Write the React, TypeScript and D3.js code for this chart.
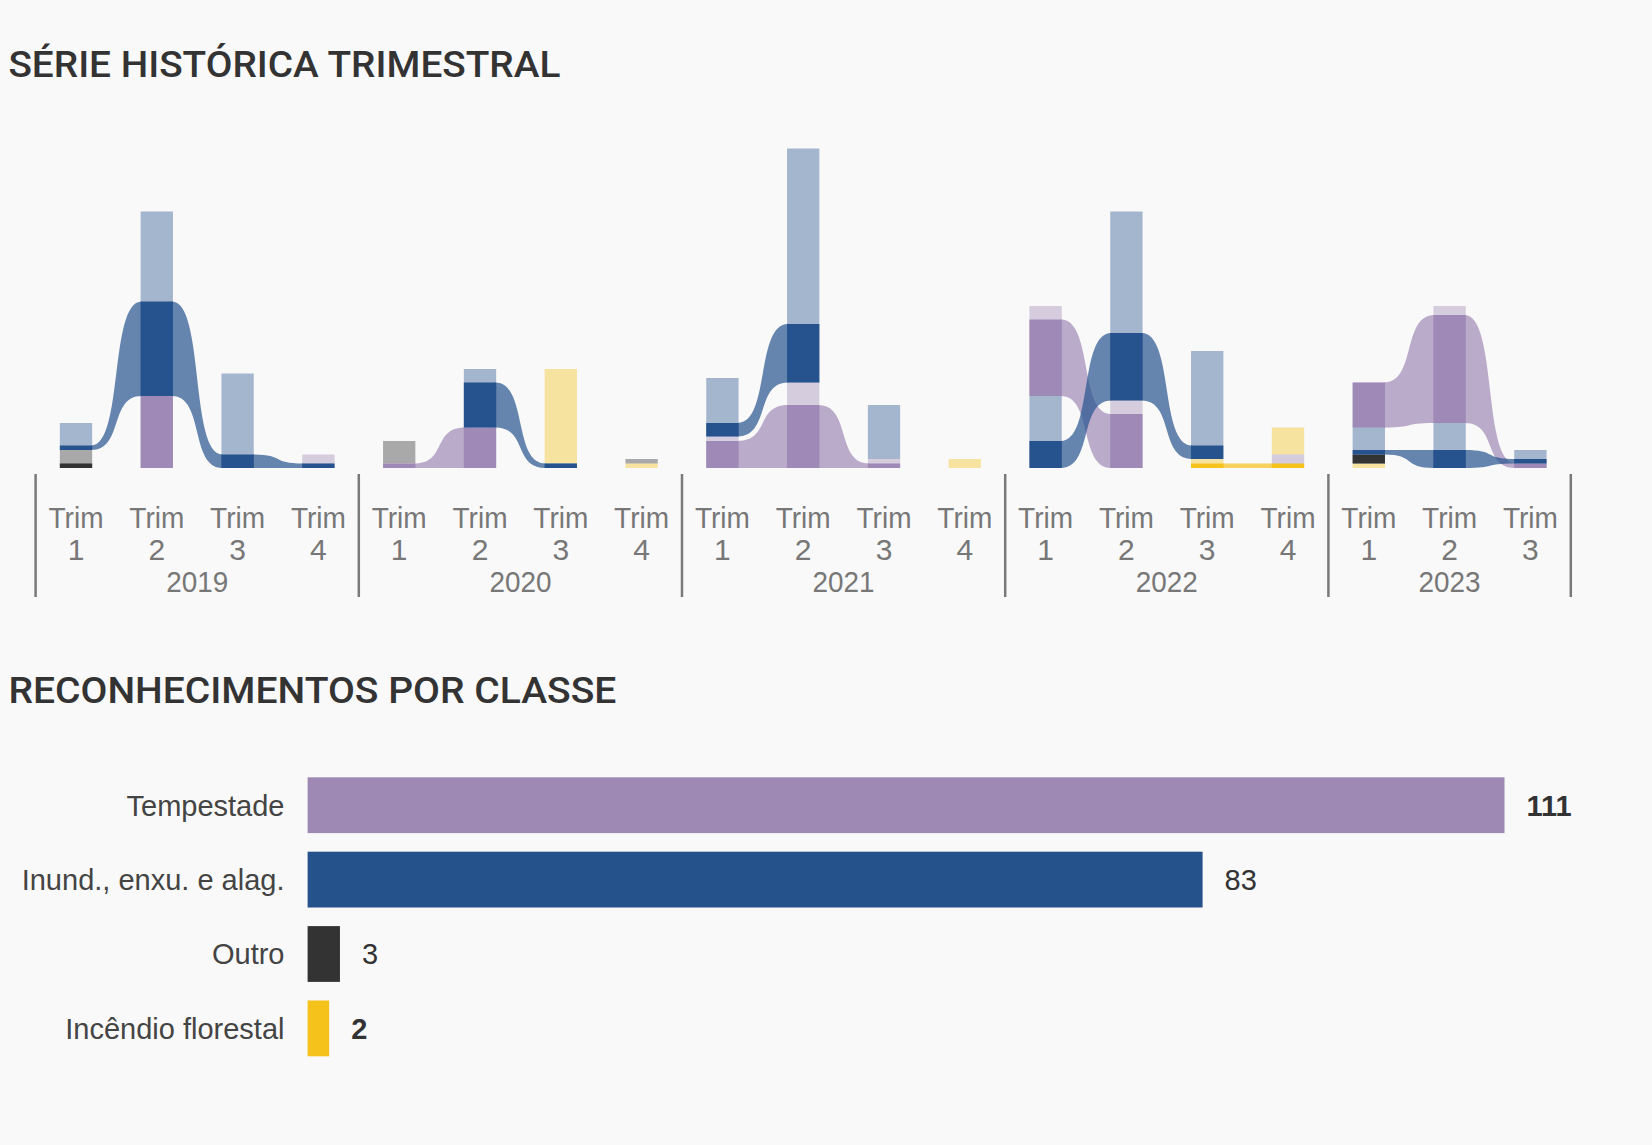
import React from "react";
import * as d3 from "d3";

// ---------- DATA ----------
const quarterYear = [
  "2019", "2019", "2019", "2019",
  "2020", "2020", "2020", "2020",
  "2021", "2021", "2021", "2021",
  "2022", "2022", "2022", "2022",
  "2023", "2023", "2023",
];
const quarterNum = ["1", "2", "3", "4", "1", "2", "3", "4", "1", "2", "3", "4", "1", "2", "3", "4", "1", "2", "3"];
const years = ["2019", "2020", "2021", "2022", "2023"];

// total per quarter (faded part) and highlighted per quarter (solid part)
const tempestadeTotal = [0, 16, 0, 2, 1, 9, 0, 0, 7, 19, 2, 0, 20, 15, 0, 2, 10, 26, 1];
const tempestadeDestaque = [0, 16, 0, 0, 1, 9, 0, 0, 6, 14, 1, 0, 17, 12, 0, 0, 10, 24, 1];
const inundTotal = [6, 41, 21, 1, 0, 13, 1, 0, 13, 52, 12, 0, 16, 42, 24, 0, 6, 10, 3];
const inundDestaque = [1, 21, 3, 1, 0, 10, 1, 0, 3, 13, 0, 0, 6, 15, 3, 0, 1, 4, 1];
const outroTotal = [4, 0, 0, 0, 5, 0, 0, 1, 0, 0, 0, 0, 0, 0, 0, 0, 2, 0, 0];
const outroDestaque = [1, 0, 0, 0, 0, 0, 0, 0, 0, 0, 0, 0, 0, 0, 0, 0, 2, 0, 0];
const incendioTotal = [0, 0, 0, 0, 0, 0, 0, 0, 0, 0, 0, 0, 0, 0, 2, 1, 0, 0, 0];
const incendioDestaque = [0, 0, 0, 0, 0, 0, 0, 0, 0, 0, 0, 0, 0, 0, 1, 1, 0, 0, 0];
const estiagemTotal = [0, 0, 0, 0, 0, 0, 21, 1, 0, 0, 0, 2, 0, 0, 0, 6, 1, 0, 0];
const estiagemDestaque = [0, 0, 0, 0, 0, 0, 0, 0, 0, 0, 0, 0, 0, 0, 0, 0, 0, 0, 0];

const classes = ["Tempestade", "Inund., enxu. e alag.", "Outro", "Incêndio florestal"];
const classCounts = [111, 83, 3, 2];

const seriesKeys = ["Estiagem", "Incêndio florestal", "Outro", "Tempestade", "Inund., enxu. e alag."];
const seriesColors = ["#F6C21C", "#F6C21C", "#333333", "#9F8AB7", "#26538E"];

export default function App() {
  const width = 1652;
  const height = 1145;
  const BG = "#F9F9F9";
  const FONT = "'Liberation Sans', Arial, sans-serif";
  const TITLE_FONT = "Roboto, 'Liberation Sans', Arial, sans-serif";
  const colorOf = (k: string) => seriesColors[seriesKeys.indexOf(k)];

  const series = [
    { key: seriesKeys[0], total: estiagemTotal, hl: estiagemDestaque },
    { key: seriesKeys[1], total: incendioTotal, hl: incendioDestaque },
    { key: seriesKeys[2], total: outroTotal, hl: outroDestaque },
    { key: seriesKeys[3], total: tempestadeTotal, hl: tempestadeDestaque },
    { key: seriesKeys[4], total: inundTotal, hl: inundDestaque },
  ];

  const n = quarterYear.length;
  const x = d3
    .scaleBand<number>()
    .domain(d3.range(n))
    .range([35.6, 1570.8])
    .paddingInner(0.6)
    .paddingOuter(0.3);
  const bw = x.bandwidth();
  const step = x.step();
  const y = d3.scaleLinear().domain([0, 72]).range([468, 144]);

  // stack positions: ascending by total from the bottom
  const pos: Record<string, ({ base: number; total: number; hl: number } | undefined)[]> = {};
  series.forEach((s) => (pos[s.key] = new Array(n).fill(undefined)));
  for (let i = 0; i < n; i++) {
    const items = series
      .map((s, si) => ({ s, si }))
      .filter((d) => d.s.total[i] > 0)
      .sort((a, b) => a.s.total[i] - b.s.total[i] || a.si - b.si);
    let base = 0;
    items.forEach(({ s }) => {
      pos[s.key][i] = { base, total: s.total[i], hl: s.hl[i] };
      base += s.total[i];
    });
  }

  // ribbons
  const c = 0.65;
  const ribbons: { key: string; d: string }[] = [];
  series.forEach((s) => {
    for (let i = 0; i < n - 1; i++) {
      if (s.hl[i] > 0 && s.hl[i + 1] > 0) {
        const a = pos[s.key][i]!;
        const b = pos[s.key][i + 1]!;
        const x0 = (x(i) as number) + bw - 1;
        const x1 = (x(i + 1) as number) + 1;
        const dx = x1 - x0;
        const t0 = y(a.base + a.hl), b0 = y(a.base);
        const t1 = y(b.base + b.hl), b1 = y(b.base);
        const p = d3.path();
        p.moveTo(x0, t0);
        p.bezierCurveTo(x0 + c * dx, t0, x1 - c * dx, t1, x1, t1);
        p.lineTo(x1, b1);
        p.bezierCurveTo(x1 - c * dx, b1, x0 + c * dx, b0, x0, b0);
        p.closePath();
        ribbons.push({ key: s.key, d: p.toString() });
      }
    }
  });

  // year groups
  const groups = years.map((yr) => {
    const idx = quarterYear.map((q, i) => (q === yr ? i : -1)).filter((i) => i >= 0);
    return { yr, first: idx[0], last: idx[idx.length - 1] };
  });
  const x0r = x.range()[0];
  const boundaries = [...groups.map((g) => g.first), n].map((k) => x0r + k * step);

  // bottom chart
  const xb = d3.scaleLinear().domain([0, 111]).range([307.6, 1504.5]);
  const yb = d3
    .scaleBand<string>()
    .domain(classes)
    .range([768, 1065.6])
    .paddingInner(0.25)
    .paddingOuter(0.125);
  const classColors = ["#9E89B5", "#26528C", "#333333", "#F5C21B"];

  return (
    <div style={{ position: "absolute", left: 0, top: 0 }}>
      <svg width={width} height={height} style={{ display: "block" }}>
        <rect x={0} y={0} width={width} height={height} fill={BG} />

        <text
          x={8.4}
          y={77}
          fontFamily={TITLE_FONT}
          fontSize={36}
          fontWeight={500}
          fill="#333"
          textLength={552}
          lengthAdjust="spacingAndGlyphs"
        >
          SÉRIE HISTÓRICA TRIMESTRAL
        </text>

        {/* ribbons */}
        <g>
          {ribbons.map((r, i) => (
            <path key={i} d={r.d} fill={colorOf(r.key)} fillOpacity={0.7} />
          ))}
        </g>

        {/* bars */}
        <g>
          {series.map((s) =>
            pos[s.key].map((p, i) =>
              p ? (
                <g key={s.key + i}>
                  <rect
                    x={x(i)}
                    y={y(p.base + p.total)}
                    width={bw}
                    height={y(p.base) - y(p.base + p.total)}
                    fill={colorOf(s.key)}
                    fillOpacity={0.4}
                  />
                  {p.hl > 0 && (
                    <rect
                      x={x(i)}
                      y={y(p.base + p.hl)}
                      width={bw}
                      height={y(p.base) - y(p.base + p.hl)}
                      fill={colorOf(s.key)}
                    />
                  )}
                </g>
              ) : null
            )
          )}
        </g>

        {/* x axis */}
        <g fontFamily={FONT} fontSize={30} fill="#777" textAnchor="middle">
          {boundaries.map((bx, i) => (
            <line key={"b" + i} x1={bx} x2={bx} y1={474} y2={597} stroke="#7a7a7a" strokeWidth={2.5} />
          ))}
          {quarterNum.map((q, i) => (
            <g key={"q" + i}>
              <text x={(x(i) as number) + bw / 2} y={528} textLength={55} lengthAdjust="spacingAndGlyphs">
                Trim
              </text>
              <text x={(x(i) as number) + bw / 2} y={559.5}>
                {q}
              </text>
            </g>
          ))}
          {groups.map((g, gi) => (
            <text
              key={g.yr}
              x={(boundaries[gi] + boundaries[gi + 1]) / 2}
              y={591.5}
              textLength={62}
              lengthAdjust="spacingAndGlyphs"
            >
              {g.yr}
            </text>
          ))}
        </g>

        <text
          x={8.4}
          y={703}
          fontFamily={TITLE_FONT}
          fontSize={36}
          fontWeight={500}
          fill="#333"
          textLength={608}
          lengthAdjust="spacingAndGlyphs"
        >
          RECONHECIMENTOS POR CLASSE
        </text>

        {/* bottom bar chart */}
        <g fontFamily={FONT} fontSize={29}>
          {classes.map((cl, i) => {
            const yy = (yb(cl) as number) + yb.bandwidth() / 2;
            return (
              <g key={cl}>
                <rect
                  x={xb(0)}
                  y={yb(cl)}
                  width={xb(classCounts[i]) - xb(0)}
                  height={yb.bandwidth()}
                  fill={classColors[i]}
                />
                <text x={284.5} y={yy} dy="0.36em" textAnchor="end" fill="#444">
                  {cl}
                </text>
                <text
                  x={xb(classCounts[i]) + 22}
                  y={yy}
                  dy="0.36em"
                  fill="#333"
                  fontWeight={i === 0 || i === classes.length - 1 ? 700 : 400}
                >
                  {classCounts[i]}
                </text>
              </g>
            );
          })}
        </g>
      </svg>
    </div>
  );
}
